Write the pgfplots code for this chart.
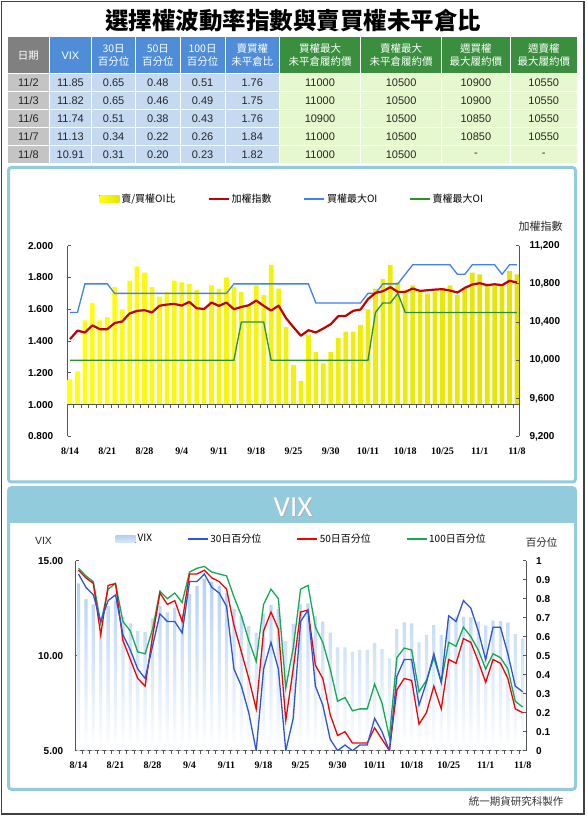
\documentclass[border=0pt]{standalone}
\usepackage{pgfplots}
\pgfplotsset{compat=1.18}
\usepackage{pgfplotstable}
\usepackage{fontspec}
\setmainfont{Liberation Sans}
\newfontfamily\cjk{Noto Sans CJK TC}
\newfontfamily\tnr{Liberation Serif}
\newfontfamily\carl{Carlito}

\definecolor{panelblue}{RGB}{146,203,219}
\definecolor{hdrgray}{RGB}{128,128,128}
\definecolor{hdrblue}{RGB}{80,141,216}
\definecolor{hdrgreen}{RGB}{58,143,62}
\definecolor{cellgray}{RGB}{196,196,196}
\definecolor{cellblue}{RGB}{197,217,241}
\definecolor{cellgreen}{RGB}{230,249,206}
\definecolor{idxred}{RGB}{196,0,0}
\definecolor{callblue}{RGB}{65,128,245}
\definecolor{putgreen}{RGB}{40,145,40}
\definecolor{barYa}{RGB}{255,255,20}
\definecolor{barYb}{RGB}{228,228,0}
\definecolor{vixbar}{RGB}{178,208,244}
\definecolor{pblue}{RGB}{45,85,215}
\definecolor{pred}{RGB}{250,0,0}
\definecolor{pgreen}{RGB}{20,170,80}
\definecolor{axgray}{RGB}{85,85,85}

\pgfplotstableread{
i r idx cmax pmax
0 1.16 10220 10500 10000
1 1.21 10310 10500 10000
2 1.53 10290 10800 10000
3 1.64 10365 10800 10000
4 1.53 10325 10800 10000
5 1.55 10325 10800 10000
6 1.74 10390 10700 10000
7 1.60 10405 10700 10000
8 1.78 10490 10700 10000
9 1.87 10517 10700 10000
10 1.83 10524 10700 10000
11 1.74 10500 10700 10000
12 1.68 10570 10700 10000
13 1.71 10583 10700 10000
14 1.78 10590 10700 10000
15 1.77 10572 10700 10000
16 1.76 10611 10700 10000
17 1.72 10544 10700 10000
18 1.61 10537 10700 10000
19 1.75 10604 10700 10000
20 1.73 10569 10700 10000
21 1.80 10604 10700 10000
22 1.74 10534 10800 10000
23 1.71 10558 10800 10400
24 1.62 10576 10800 10400
25 1.75 10625 10800 10400
26 1.69 10569 10800 10400
27 1.88 10520 10800 10000
28 1.73 10572 10800 10000
29 1.49 10440 10800 10000
30 1.25 10345 10800 10000
31 1.15 10256 10800 10000
32 1.44 10314 10800 10000
33 1.33 10290 10600 10000
34 1.26 10332 10600 10000
35 1.33 10377 10600 10000
36 1.42 10461 10600 10000
37 1.46 10464 10600 10000
38 1.46 10517 10600 10000
39 1.50 10531 10600 10000
40 1.60 10640 10700 10000
41 1.73 10705 10700 10500
42 1.79 10723 10800 10600
43 1.88 10765 10800 10600
44 1.77 10716 10800 10700
45 1.72 10716 10900 10500
46 1.75 10751 11000 10500
47 1.71 10726 11000 10500
48 1.70 10733 11000 10500
49 1.71 10740 11000 10500
50 1.73 10744 11000 10500
51 1.75 10730 11000 10500
52 1.69 10709 10900 10500
53 1.73 10758 10900 10500
54 1.83 10793 11000 10500
55 1.82 10807 11000 10500
56 1.76 10786 11000 10500
57 1.75 10796 11000 10500
58 1.76 10786 10900 10500
59 1.84 10832 11000 10500
60 1.82 10814 11000 10500
}\dataA

\pgfplotstableread{
i vix p30 p50 p100
0 13.81 0.93 0.95 0.96
1 12.98 0.86 0.91 0.92
2 12.70 0.82 0.88 0.89
3 11.20 0.68 0.61 0.67
4 12.61 0.79 0.87 0.85
5 12.90 0.82 0.88 0.88
6 12.05 0.61 0.58 0.68
7 11.70 0.53 0.48 0.63
8 11.30 0.43 0.38 0.52
9 11.26 0.38 0.34 0.51
10 11.96 0.55 0.60 0.64
11 12.61 0.72 0.83 0.84
12 12.28 0.68 0.77 0.80
13 12.53 0.68 0.79 0.83
14 12.20 0.62 0.68 0.78
15 13.25 0.89 0.93 0.94
16 13.67 0.89 0.93 0.96
17 14.05 0.93 0.95 0.97
18 13.90 0.86 0.91 0.94
19 13.67 0.83 0.89 0.93
20 13.30 0.76 0.85 0.92
21 12.46 0.43 0.66 0.81
22 12.10 0.34 0.52 0.71
23 11.56 0.20 0.38 0.58
24 11.21 0.00 0.22 0.47
25 12.23 0.43 0.63 0.77
26 12.67 0.57 0.73 0.85
27 12.46 0.43 0.64 0.80
28 10.77 0.00 0.16 0.33
29 11.68 0.17 0.43 0.54
30 12.70 0.68 0.73 0.85
31 12.75 0.74 0.74 0.87
32 12.10 0.34 0.45 0.65
33 11.79 0.24 0.38 0.57
34 11.21 0.06 0.19 0.43
35 10.44 0.00 0.08 0.26
36 10.44 0.03 0.10 0.28
37 10.21 0.00 0.04 0.21
38 10.30 0.03 0.04 0.22
39 10.30 0.03 0.04 0.22
40 10.68 0.17 0.12 0.35
41 10.35 0.10 0.06 0.25
42 9.86 0.00 0.00 0.07
43 11.40 0.39 0.32 0.49
44 11.75 0.48 0.38 0.54
45 11.70 0.48 0.37 0.53
46 10.70 0.24 0.14 0.31
47 11.09 0.36 0.20 0.37
48 11.61 0.51 0.34 0.49
49 11.09 0.36 0.22 0.36
50 11.90 0.71 0.48 0.57
51 12.05 0.68 0.46 0.55
52 12.05 0.79 0.59 0.65
53 12.02 0.75 0.57 0.60
54 11.79 0.63 0.47 0.53
55 11.58 0.48 0.36 0.43
56 11.85 0.65 0.48 0.51
57 11.82 0.65 0.46 0.49
58 11.74 0.51 0.38 0.43
59 11.13 0.34 0.22 0.26
60 10.91 0.31 0.20 0.23
}\dataB

\begin{document}
\begin{tikzpicture}[x=1pt,y=1pt]
\useasboundingbox (0,0) rectangle (586,816);
% outer frame
\draw[black!75, line width=1.5pt] (1.5,2) rectangle (584,814.5);
% title
\node[font=\cjk\bfseries\fontsize{23.5}{26}\selectfont] at (293,795) {選擇權波動率指數與賣買權未平倉比};

% ---------- table ----------
\fill[hdrgray] (7.5,742.7) rectangle (49.3,778.7);
\fill[hdrblue] (49.3,742.7) rectangle (279.5,778.7);
\fill[hdrgreen] (279.5,742.7) rectangle (577.4,778.7);
\fill[cellgray] (7.5,652.5) rectangle (49.3,742.7);
\fill[cellblue] (49.3,652.5) rectangle (279.5,742.7);
\fill[cellgreen] (279.5,652.5) rectangle (577.4,742.7);
\foreach \xx in {49.3,91.6,135.6,180.1,225,279.5,360.6,441.7,510.1}
  \draw[white, line width=1pt] (\xx,652.5) -- (\xx,778.7);
\foreach \yy in {742.7,724.5,706.5,688.5,670.5}
  \draw[white, line width=1pt] (7.5,\yy) -- (577.4,\yy);
\begin{scope}[every node/.style={font=\cjk\fontsize{10.5}{13.3}\selectfont, text=white, align=center}]
\node at (28.4,760.7) {日期};
\node[font=\fontsize{11}{13}\selectfont] at (70.45,760.7) {VIX};
\node at (113.6,760.7) {30日\\百分位};
\node at (157.85,760.7) {50日\\百分位};
\node at (202.55,760.7) {100日\\百分位};
\node at (252.25,760.7) {賣買權\\未平倉比};
\node at (320.05,760.7) {買權最大\\未平倉履約價};
\node at (401.15,760.7) {賣權最大\\未平倉履約價};
\node at (475.9,760.7) {週買權\\最大履約價};
\node at (543.75,760.7) {週賣權\\最大履約價};
\end{scope}
\begin{scope}[every node/.style={font=\fontsize{11}{13}\selectfont, text=black!85}]
\foreach \rY/\rA/\rB/\rC/\rD/\rE/\rF/\rG/\rH/\rK/\rL in {
 733.6/{11/2}/11.85/0.65/0.48/0.51/1.76/11000/10500/10900/10550,
 715.5/{11/3}/11.82/0.65/0.46/0.49/1.75/11000/10500/10900/10550,
 697.5/{11/6}/11.74/0.51/0.38/0.43/1.76/10900/10500/10850/10550,
 679.5/{11/7}/11.13/0.34/0.22/0.26/1.84/11000/10500/10850/10550,
 661.5/{11/8}/10.91/0.31/0.20/0.23/1.82/11000/10500/-/-}{
 \node at (28.4,\rY) {\rA};
 \node at (70.45,\rY) {\rB};
 \node at (113.6,\rY) {\rC};
 \node at (157.85,\rY) {\rD};
 \node at (202.55,\rY) {\rE};
 \node at (252.25,\rY) {\rF};
 \node at (320.05,\rY) {\rG};
 \node at (401.15,\rY) {\rH};
 \node at (475.9,\rY) {\rK};
 \node at (543.75,\rY) {\rL};
}
\end{scope}

% ---------- panels ----------
\draw[panelblue, line width=3pt, rounded corners=3pt] (8.5,648.5) rectangle (575.5,334);
\fill[panelblue] (8.5,328.3) rectangle (575.5,293);
\draw[panelblue, line width=3pt, rounded corners=3pt] (8.5,328.3) rectangle (575.5,26.7);
\node[font=\carl\fontsize{29}{30}\selectfont, text=black!30] at (294,308) {VIX};
\node[font=\carl\fontsize{29}{30}\selectfont, text=white] at (293,309) {VIX};
\node[anchor=east, font=\cjk\fontsize{10.5}{12}\selectfont, text=black!80] at (567,14) {統一期貨研究科製作};

% ---------- chart 1 ----------
\begin{axis}[
  at={(67.7pt,379.5pt)}, anchor=south west, scale only axis,
  width=451.6pt, height=190.8pt,
  xmin=-0.31, xmax=60.31, ymin=-0.2, ymax=1.0,
  axis y line*=left, axis x line*=bottom,
  axis line style={axgray, line width=0.9pt},
  x axis line style={draw opacity=0},
  tick align=inside, major tick length=3.5pt,
  tick style={axgray, line width=0.8pt},
  xtick={0,5,...,60},
  xticklabels={8/14,8/21,8/28,9/4,9/11,9/18,9/25,9/30,10/11,10/18,10/25,11/1,11/8},
  xtick style={draw=none},
  ytick={-0.2,0,0.2,0.4,0.6,0.8,1.0},
  yticklabels={0.800,1.000,1.200,1.400,1.600,1.800,2.000},
  xticklabel style={font=\tnr\bfseries\fontsize{10}{12}\selectfont, yshift=-7.5pt},
  yticklabel style={font=\bfseries\fontsize{10}{12}\selectfont, xshift=-11pt},
]
\addplot[ybar, bar width=4.7pt, draw=none, left color=barYa, middle color=barYa, right color=barYb]
  table[x=i, y expr=\thisrow{r}-1] {\dataA};
\draw[axgray, line width=0.9pt] (axis cs:-0.31,0) -- (axis cs:60.31,0);
\pgfplotsinvokeforeach{0.5,1.5,...,59.5}{\draw[axgray, line width=0.7pt] (axis cs:#1,0) -- ++(0pt,-3pt);}
\end{axis}

\begin{axis}[
  at={(67.7pt,379.5pt)}, anchor=south west, scale only axis,
  width=451.6pt, height=190.8pt,
  xmin=-0.31, xmax=60.31, ymin=9200, ymax=11200,
  axis y line*=right, axis x line=none, xtick=\empty,
  scaled y ticks=false,
  axis line style={axgray, line width=0.9pt},
  tick align=inside, major tick length=3.5pt,
  tick style={axgray, line width=0.8pt},
  ytick={9200,9600,10000,10400,10800,11200},
  yticklabels={{9,200},{9,600},{10,000},{10,400},{10,800},{11,200}},
  yticklabel style={font=\bfseries\fontsize{10}{12}\selectfont, xshift=6.7pt},
  legend columns=4,
  legend image code/.code={\draw[#1] (0pt,0pt) -- (20pt,0pt);},
  legend style={draw=none, fill=none, at={(0.497,1.245)}, anchor=center,
    font=\cjk\fontsize{10}{11}\selectfont,
    /tikz/every even column/.append style={column sep=30pt}},
]
\addlegendimage{legend image code/.code={\fill[draw=none, left color=barYa, middle color=barYa, right color=barYb] (0pt,-3.5pt) rectangle (20pt,3.5pt);}}
\addlegendentry{賣/買權OI比}
\addlegendimage{idxred, line width=2.2pt}
\addlegendentry{加權指數}
\addlegendimage{callblue, line width=1.3pt}
\addlegendentry{買權最大OI}
\addlegendimage{putgreen, line width=1.3pt}
\addlegendentry{賣權最大OI}
\addplot[callblue, line width=1.3pt, forget plot] table[x=i, y=cmax] {\dataA};
\addplot[putgreen, line width=1.3pt, forget plot] table[x=i, y=pmax] {\dataA};
\addplot[idxred, line width=2.2pt, line join=round, forget plot] table[x=i, y=idx] {\dataA};
\end{axis}
\node[font=\cjk\fontsize{11}{12}\selectfont, text=black!85] at (540.5,590) {加權指數};

% ---------- chart 2 ----------
\begin{axis}[
  at={(75.7pt,65.3pt)}, anchor=south west, scale only axis,
  width=450.3pt, height=190pt, clip=false,
  xmin=-0.38, xmax=60.45, ymin=0, ymax=10,
  axis y line*=left, axis x line*=bottom,
  axis line style={axgray, line width=0.9pt},
  tick align=inside, major tick length=3.5pt,
  tick style={axgray, line width=0.8pt},
  xtick={0,5,...,60},
  xticklabels={8/14,8/21,8/28,9/4,9/11,9/18,9/25,9/30,10/11,10/18,10/25,11/1,11/8},
  xtick style={draw=none},
  ytick={0,5,10}, yticklabels={5.00,10.00,15.00},
  xticklabel style={font=\tnr\bfseries\fontsize{10}{12}\selectfont, yshift=-7.5pt},
  yticklabel style={font=\bfseries\fontsize{10}{12}\selectfont, xshift=-9pt},
]
\addplot[ybar, bar width=3.3pt, draw=none, top color=vixbar, middle color=vixbar!85!white, bottom color=white]
  table[x=i, y expr=\thisrow{vix}-5] {\dataB};
\pgfplotsinvokeforeach{0.5,1.5,...,59.5}{\draw[axgray, line width=0.7pt] (axis cs:#1,0) -- ++(0pt,-3pt);}
\end{axis}

\begin{axis}[
  at={(75.7pt,65.3pt)}, anchor=south west, scale only axis,
  width=450.3pt, height=190pt,
  xmin=-0.38, xmax=60.45, ymin=0, ymax=1,
  axis y line*=right, axis x line=none, xtick=\empty,
  axis line style={axgray, line width=0.9pt},
  tick align=inside, major tick length=3.5pt,
  tick style={axgray, line width=0.8pt},
  ytick={0,0.1,0.2,0.3,0.4,0.5,0.6,0.7,0.8,0.9,1},
  yticklabels={0,0.1,0.2,0.3,0.4,0.5,0.6,0.7,0.8,0.9,1},
  yticklabel style={font=\bfseries\fontsize{10}{12}\selectfont, xshift=6.7pt},
  legend columns=4,
  legend image code/.code={\draw[#1] (0pt,0pt) -- (20pt,0pt);},
  legend style={draw=none, fill=none, at={(0.502,1.114)}, anchor=center,
    font=\cjk\fontsize{10}{11}\selectfont,
    /tikz/every even column/.append style={column sep=33pt}},
]
\addlegendimage{legend image code/.code={\fill[draw=none, top color=vixbar, bottom color=vixbar!50!white] (0pt,-3.5pt) rectangle (20pt,3.5pt);}}
\addlegendentry{VIX}
\addlegendimage{pblue, line width=1.3pt}
\addlegendentry{30日百分位}
\addlegendimage{pred, line width=1.3pt}
\addlegendentry{50日百分位}
\addlegendimage{pgreen, line width=1.3pt}
\addlegendentry{100日百分位}
\addplot[pgreen, line width=1.3pt, forget plot] table[x=i, y=p100] {\dataB};
\addplot[pred, line width=1.3pt, forget plot] table[x=i, y=p50] {\dataB};
\addplot[pblue, line width=1.3pt, forget plot] table[x=i, y=p30] {\dataB};
\end{axis}
\node[font=\fontsize{10.5}{12}\selectfont, text=black!85] at (43.5,275) {VIX};
\node[font=\cjk\fontsize{10.5}{12}\selectfont, text=black!85] at (541.5,273) {百分位};
\end{tikzpicture}
\end{document}
